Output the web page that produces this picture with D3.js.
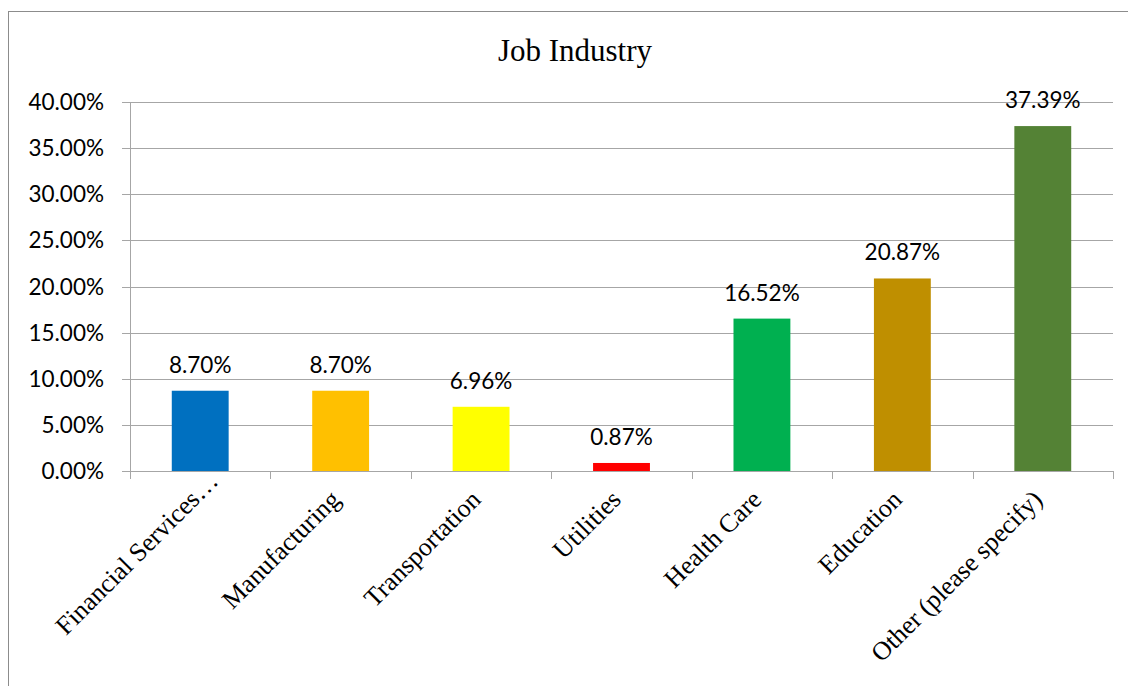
<!DOCTYPE html>
<html>
<head>
<meta charset="utf-8">
<script src="https://cdn.jsdelivr.net/npm/d3@7"></script>
<style>
  html, body { margin: 0; padding: 0; background: #fff; }
  svg { display: block; }
</style>
</head>
<body>
<svg id="chart" width="1128" height="686"></svg>
<script>
// Job industry distribution (share of respondents)
const categories = [
  "Financial Services\u2026",
  "Manufacturing",
  "Transportation",
  "Utilities",
  "Health Care",
  "Education",
  "Other (please specify)"
];
const values = [8.70, 8.70, 6.96, 0.87, 16.52, 20.87, 37.39];
const barColors = ["#0070c0", "#ffc000", "#ffff00", "#ff0000", "#00b050", "#bf8f00", "#548235"];
const yTicks = [0, 5, 10, 15, 20, 25, 30, 35, 40];
const title = "Job Industry";

const svg = d3.select("#chart");
const plot = { left: 130, right: 1113, top: 102, bottom: 471 };
const sansFont = "Lato, 'Open Sans', sans-serif";
const serifFont = "Liberation Serif, Times New Roman, serif";

// Chart frame
svg.append("rect")
  .attr("x", 8.5).attr("y", 11.5)
  .attr("width", 1140).attr("height", 700)
  .attr("fill", "#fff").attr("stroke", "#8c8c8c").attr("stroke-width", 1);

svg.append("text")
  .attr("x", 575).attr("y", 61)
  .attr("text-anchor", "middle")
  .attr("font-family", serifFont)
  .attr("font-size", 31)
  .attr("fill", "#000")
  .text(title);

const x = d3.scaleBand().domain(categories).range([plot.left, plot.right]).paddingInner(0.595).paddingOuter(0.2975);
const xOuter = d3.scaleBand().domain(categories).range([plot.left, plot.right]);
const y = d3.scaleLinear().domain([0, 40]).range([plot.bottom, plot.top]);

// Horizontal gridlines
svg.append("g")
  .selectAll("line")
  .data(yTicks)
  .join("line")
  .attr("x1", plot.left - 8).attr("x2", plot.right)
  .attr("y1", d => Math.round(y(d)) + 0.5).attr("y2", d => Math.round(y(d)) + 0.5)
  .attr("stroke", "#a6a6a6").attr("stroke-width", 1);

// Y axis line
svg.append("line")
  .attr("x1", plot.left + 0.5).attr("x2", plot.left + 0.5)
  .attr("y1", plot.top).attr("y2", plot.bottom)
  .attr("stroke", "#a6a6a6");

// Y tick labels
svg.append("g")
  .selectAll("text")
  .data(yTicks)
  .join("text")
  .attr("x", 104).attr("y", d => y(d) + 8)
  .attr("text-anchor", "end")
  .attr("font-family", sansFont)
  .attr("font-size", 22.5)
  .attr("fill", "#000")
  .text(d => d.toFixed(2) + "%");

// X axis ticks
const xTickPos = categories.map(c => xOuter(c)).concat([plot.right]);
svg.append("g")
  .selectAll("line")
  .data(xTickPos)
  .join("line")
  .attr("x1", d => Math.round(d) + 0.5).attr("x2", d => Math.round(d) + 0.5)
  .attr("y1", plot.bottom).attr("y2", plot.bottom + 8)
  .attr("stroke", "#a6a6a6");

// Bars
svg.append("g")
  .selectAll("rect")
  .data(values)
  .join("rect")
  .attr("x", (d, i) => x(categories[i]))
  .attr("width", x.bandwidth())
  .attr("y", d => y(d))
  .attr("height", d => plot.bottom - y(d))
  .attr("fill", (d, i) => barColors[i]);

// X axis baseline drawn over bars
svg.append("line")
  .attr("x1", plot.left - 8).attr("x2", plot.right)
  .attr("y1", plot.bottom + 0.5).attr("y2", plot.bottom + 0.5)
  .attr("stroke", "#a6a6a6");

// Value labels
svg.append("g")
  .selectAll("text")
  .data(values)
  .join("text")
  .attr("x", (d, i) => x(categories[i]) + x.bandwidth() / 2)
  .attr("y", d => y(d) - 18)
  .attr("text-anchor", "middle")
  .attr("font-family", sansFont)
  .attr("font-size", 22.5)
  .attr("fill", "#000")
  .text(d => d.toFixed(2) + "%");

// Rotated category labels; a truncated label keeps its body aligned and lets the ellipsis overhang
const catLabels = svg.append("g")
  .selectAll("text")
  .data(categories)
  .join("text")
  .attr("transform", c => `translate(${xOuter(c) + xOuter.bandwidth() / 2 + 1},${plot.bottom + 30}) rotate(-45)`)
  .attr("text-anchor", "end")
  .attr("font-family", serifFont)
  .attr("font-size", 26)
  .attr("fill", "#000")
  .text(c => c);

catLabels.filter(c => c.endsWith("\u2026")).each(function () {
  const probe = svg.append("text")
    .attr("font-family", serifFont).attr("font-size", 26)
    .text("\u2026");
  const w = probe.node().getComputedTextLength();
  probe.remove();
  d3.select(this).attr("dx", w);
});
</script>
</body>
</html>
